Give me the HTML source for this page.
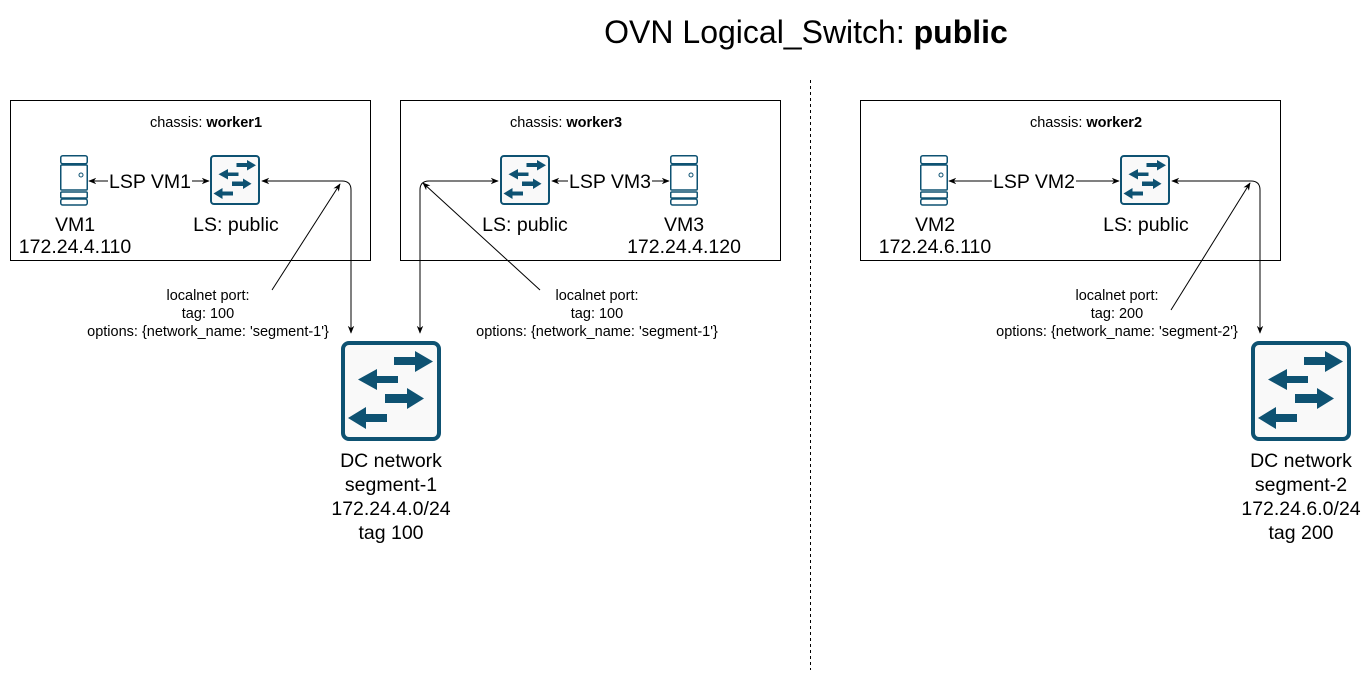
<!DOCTYPE html>
<html><head><meta charset="utf-8"><style>
html,body{margin:0;padding:0;background:#fff;}
svg{display:block;font-family:"Liberation Sans",Arial,sans-serif;}
</style></head><body>
<svg width="1372" height="682" viewBox="0 0 1372 682" xmlns="http://www.w3.org/2000/svg">
<defs>
<marker id="ar" viewBox="0 0 10 10" refX="9" refY="5" markerWidth="8" markerHeight="8" orient="auto-start-reverse" markerUnits="userSpaceOnUse">
<path d="M0,1 L10,5 L0,9 L3,5 z" fill="#000"/></marker>
<g id="sw">
<rect x="2" y="2" width="96" height="96" rx="6" fill="#f9f9f9" stroke="#0e5272" stroke-width="4"/>
<g fill="#0e5272">
<path d="M53,16 H74 V10 L92,20.5 L74,31 V24 H53 z"/>
<path d="M57,35 H36 V28 L17,38.5 L36,49 V42 H57 z"/>
<path d="M44,53 H66 V47 L83,57.5 L66,68 V62 H44 z"/>
<path d="M46,73 H25 V66 L7,77 L25,88 V81 H46 z"/>
</g></g>
<g id="vm" fill="#fff" stroke="#0e5272" stroke-width="1.5">
<rect x="0.75" y="0.75" width="26.5" height="8" rx="2"/>
<rect x="0.75" y="10" width="26.5" height="25" rx="1"/>
<rect x="0.75" y="37" width="26.5" height="6" rx="1"/>
<rect x="0.75" y="44" width="26.5" height="6" rx="2"/>
<circle cx="21" cy="20" r="2" stroke-width="1"/>
</g>
</defs>

<text x="806" y="43" font-size="32" text-anchor="middle">OVN Logical_Switch: <tspan font-weight="bold">public</tspan></text>
<line x1="810.5" y1="80" x2="810.5" y2="670" stroke="#000" stroke-dasharray="3,3"/>

<g fill="none" stroke="#000" stroke-width="1">
<rect x="10.5" y="100.5" width="360" height="160"/>
<rect x="400.5" y="100.5" width="380" height="160"/>
<rect x="860.5" y="100.5" width="420" height="160"/>
</g>
<g font-size="14.5" text-anchor="middle">
<text x="206" y="127">chassis: <tspan font-weight="bold">worker1</tspan></text>
<text x="566" y="127">chassis: <tspan font-weight="bold">worker3</tspan></text>
<text x="1086" y="127">chassis: <tspan font-weight="bold">worker2</tspan></text>
</g>

<use href="#vm" x="60" y="155"/>
<use href="#vm" x="670" y="155"/>
<use href="#vm" x="920" y="155"/>
<use href="#sw" transform="translate(210,155) scale(0.5)"/>
<use href="#sw" transform="translate(500,155) scale(0.5)"/>
<use href="#sw" transform="translate(1120,155) scale(0.5)"/>
<use href="#sw" x="341" y="341"/>
<use href="#sw" x="1251" y="341"/>

<g fill="none" stroke="#000" stroke-width="1">
<line x1="89" y1="181" x2="209" y2="181" marker-start="url(#ar)" marker-end="url(#ar)"/>
<line x1="552" y1="181" x2="669" y2="181" marker-start="url(#ar)" marker-end="url(#ar)"/>
<line x1="949" y1="181" x2="1119" y2="181" marker-start="url(#ar)" marker-end="url(#ar)"/>
<path d="M262,181 H342 Q351,181 351,190 V333" marker-start="url(#ar)" marker-end="url(#ar)"/>
<path d="M498,181 H429 Q420,181 420,190 V333" marker-start="url(#ar)" marker-end="url(#ar)"/>
<path d="M1172,181 H1251 Q1260,181 1260,190 V333" marker-start="url(#ar)" marker-end="url(#ar)"/>
<line x1="272" y1="290" x2="340" y2="184" marker-end="url(#ar)"/>
<line x1="540" y1="290" x2="423" y2="183" marker-end="url(#ar)"/>
<line x1="1171" y1="310" x2="1250" y2="183" marker-end="url(#ar)"/>
</g>

<g font-size="19.5" text-anchor="middle">
<rect x="108" y="170" width="84" height="22" fill="#fff"/>
<text x="150" y="188">LSP VM1</text>
<rect x="568" y="170" width="84" height="22" fill="#fff"/>
<text x="610" y="188">LSP VM3</text>
<rect x="992" y="170" width="84" height="22" fill="#fff"/>
<text x="1034" y="188">LSP VM2</text>
</g>

<g font-size="19.5" text-anchor="middle">
<text x="75" y="231">VM1</text><text x="75" y="253">172.24.4.110</text>
<text x="236" y="231">LS: public</text>
<text x="525" y="231">LS: public</text>
<text x="684" y="231">VM3</text><text x="684" y="253">172.24.4.120</text>
<text x="935" y="231">VM2</text><text x="935" y="253">172.24.6.110</text>
<text x="1146" y="231">LS: public</text>
<text x="391" y="467">DC network</text><text x="391" y="491">segment-1</text><text x="391" y="515">172.24.4.0/24</text><text x="391" y="539">tag 100</text>
<text x="1301" y="467">DC network</text><text x="1301" y="491">segment-2</text><text x="1301" y="515">172.24.6.0/24</text><text x="1301" y="539">tag 200</text>
</g>

<g font-size="14.5" text-anchor="middle">
<text x="208" y="300">localnet port:</text><text x="208" y="318">tag: 100</text><text x="208" y="336">options: {network_name: 'segment-1'}</text>
<text x="597" y="300">localnet port:</text><text x="597" y="318">tag: 100</text><text x="597" y="336">options: {network_name: 'segment-1'}</text>
<text x="1117" y="300">localnet port:</text><text x="1117" y="318">tag: 200</text><text x="1117" y="336">options: {network_name: 'segment-2'}</text>
</g>
</svg>
</body></html>
